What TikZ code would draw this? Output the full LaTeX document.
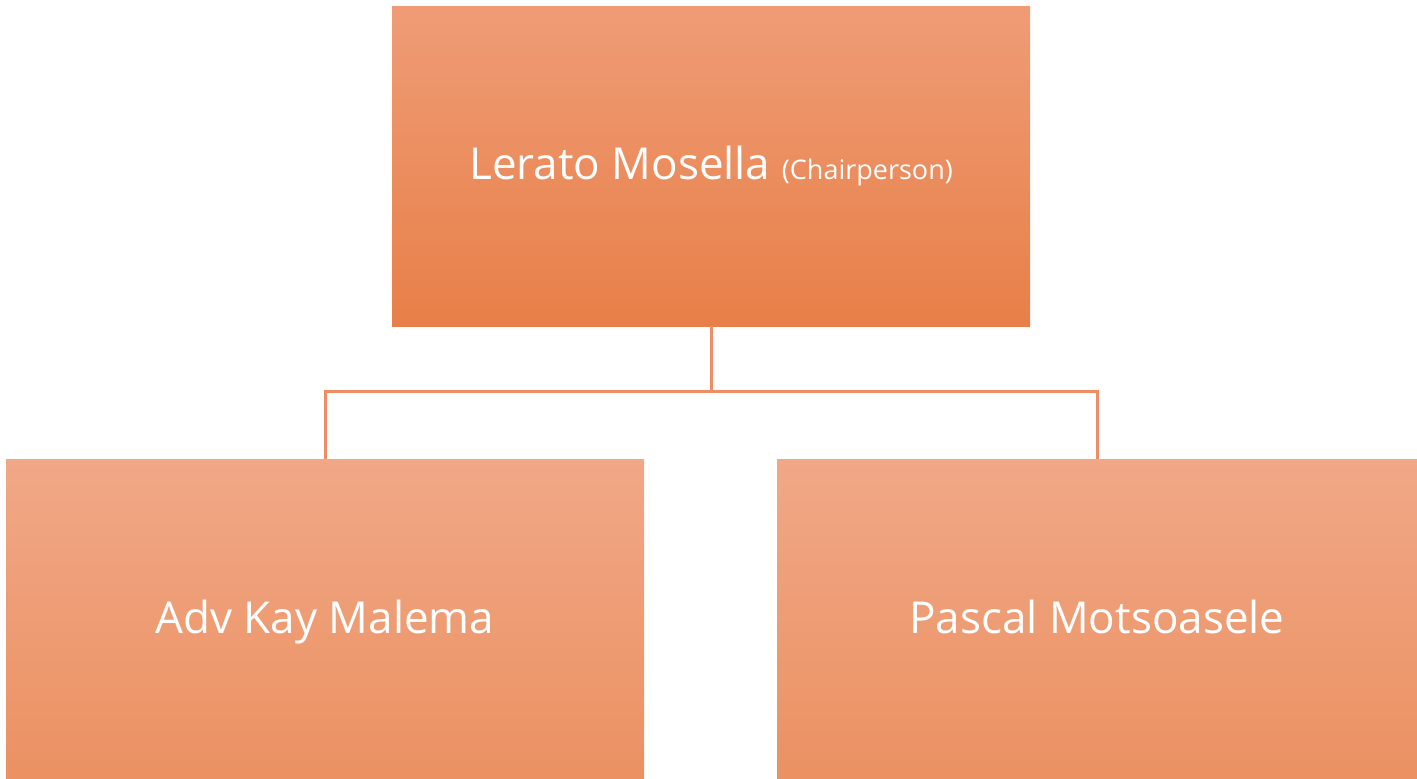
\documentclass[tikz,border=0pt]{standalone}
\usepackage{fontspec}
\setmainfont{Open Sans}
\usetikzlibrary{positioning}
\definecolor{chairtop}{HTML}{EF9C76}
\definecolor{chairmid}{HTML}{F38D5A}
\definecolor{chairbot}{HTML}{E87F48}
\definecolor{membtop}{HTML}{F1A887}
\definecolor{membmid}{HTML}{F59C6C}
\definecolor{membbot}{HTML}{EB9162}
\definecolor{linkcol}{HTML}{EE8D66}
\tikzset{
  chairbox/.style={draw=none, minimum width=638, minimum height=320, inner sep=0,
    text height=32, text depth=5,
    top color=chairtop, middle color=chairmid, bottom color=chairbot,
    text=white, font=\fontsize{44}{50}\selectfont},
  membbox/.style={draw=none, minimum width=638, minimum height=320, inner sep=0,
    text height=32, text depth=4,
    top color=membtop, middle color=membmid, bottom color=membbot,
    text=white, font=\fontsize{44}{50}\selectfont},
  link/.style={draw=linkcol, line width=3}
}
\begin{document}
\begin{tikzpicture}[x=1pt, y=-1pt]
			%%%%% START %%%%%
			\useasboundingbox (0,0) rectangle (1417,779);
			
			\node[chairbox] (chair) at (711,166) {Lerato Mosella {\fontsize{27}{30}\selectfont(Chairperson)}};
			
			\node[membbox] (kay) at (325,619) {Adv Kay Malema};
			\node[membbox, minimum width=640] (pascal) at (1097,619) {Pascal Motsoasele};
			
			\coordinate (split) at (711,391);
			\draw[link] (chair.south) -- (split) -| (kay.north);
			\draw[link] (split) -| (pascal.north);
			%%%%% END %%%%%
\end{tikzpicture}
\end{document}
